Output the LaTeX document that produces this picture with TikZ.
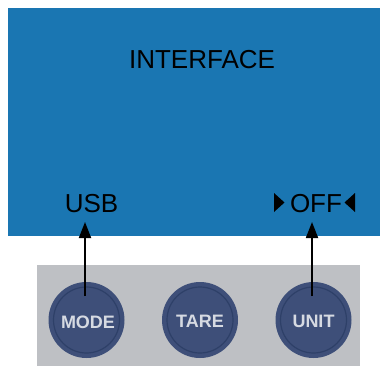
\documentclass[tikz,border=0pt]{standalone}
\usepackage{fontspec}
\setmainfont{Liberation Sans}
\usetikzlibrary{arrows.meta}
\definecolor{screenblue}{RGB}{26,118,178}
\definecolor{panelgray}{RGB}{190,192,196}
\definecolor{btnblue}{RGB}{62,79,121}
\definecolor{btnring}{RGB}{46,64,104}
\definecolor{btntext}{RGB}{214,218,226}
\tikzset{
  lcd/.style={font=\fontsize{26}{26}\selectfont, text=black, inner sep=0pt},
  button/.style={circle, fill=btnblue, minimum size=76pt, inner sep=0pt},
  btnlabel/.style={text=btntext, font=\bfseries\fontsize{18}{18}\selectfont, anchor=base, inner sep=0pt},
  ring/.style={draw=btnring, line width=1.2pt},
  pointer/.style={draw=black, line width=1.8pt, -{Triangle[length=16pt,width=12pt]}},
}
\begin{document}
\begin{tikzpicture}[x=1pt,y=-1pt]
\useasboundingbox (0,0) rectangle (380,367);
% screen
\fill[screenblue] (8,8) rectangle (380,236);
% panel
\fill[panelgray] (37,265) rectangle (360,366);
% texts on screen
\node[lcd, anchor=base] (iface) at (202,68) {INTERFACE};
\node[lcd, anchor=base] (usb) at (91.5,212) {USB};
\node[lcd, anchor=base] (off) at (316,212) {OFF};
\fill[black] (274,193) -- (274,212) -- (284.5,202.5) -- cycle;
\fill[black] (355,193) -- (355,212) -- (344.5,202.5) -- cycle;
% buttons
\node[button] (mode) at (86.5,320) {};
\node[button] (tare) at (200,320) {};
\node[button] (unit) at (313.5,320) {};
\foreach \b in {mode,tare,unit} \draw[ring] (\b.center) circle (33pt);
\node[btnlabel] (modet) at (88,328) {MODE};
\node[btnlabel] (taret) at (200,327) {TARE};
\node[btnlabel] (unitt) at (313.5,327) {UNIT};
% arrows
\coordinate (mfrom) at (85,296);
\coordinate (mto) at (85,222);
\coordinate (ufrom) at (312,296);
\coordinate (uto) at (312,222);
\draw[pointer] (mfrom) -- (mto);
\draw[pointer] (ufrom) -- (uto);
\end{tikzpicture}
\end{document}
